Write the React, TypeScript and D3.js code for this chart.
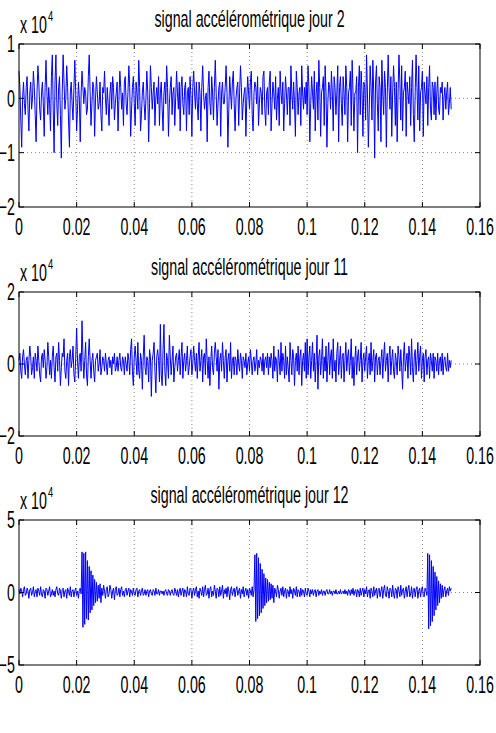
import * as d3 from "d3";

const xTicks = [0, 0.02, 0.04, 0.06, 0.08, 0.1, 0.12, 0.14, 0.16];
const xTickLabels = ["0", "0.02", "0.04", "0.06", "0.08", "0.1", "0.12", "0.14", "0.16"];

const titles = [
  "signal accélérométrique jour 2",
  "signal accélérométrique jour 11",
  "signal accélérométrique jour 12",
];

// y ticks in units of 10^4
const yTicksJour2 = [-2, -1, 0, 1];
const yTicksJour11 = [-2, 0, 2];
const yTicksJour12 = [-5, 0, 5];

// seconds between two samples
const sampleStep = 0.0003125;

// samples, in thousands
const jour2 = [
  5, 2, -4, -9, 0, 3, -1, -3, 2, 4, -2, -6, 1, 3, -2, 0, 5, 2, -3, -8,
  1, 6, 3, -2, -4, 1, 3, -1, -7, 2, 7, 1, -3, 2, -1, -6, 4, 8, -2, -10,
  3, 8, -1, -5, 2, 4, -3, -11, 1, 8, 3, -2, 0, 6, 2, -4, -9, 1, 3, -1,
  -4, 2, 7, 1, -6, -2, 3, 0, -8, 1, 5, 2, -1, 2, 1, -3, -2, 4, 8, 1,
  -5, -1, 3, 2, -7, 0, 4, 1, -2, -1, 3, -3, -6, 2, 1, 5, 0, -3, 2, -1,
  -5, 1, 3, -2, 4, 2, -4, -1, 1, 3, -6, 0, 5, 2, -2, 1, -5, 3, 4, -1,
  -3, 1, 6, 2, -7, -2, 2, 4, -1, -5, 3, 1, -2, 7, 2, -6, -3, 1, 3, -1,
  -4, 0, 5, 1, -8, -1, 6, 2, -2, 1, 3, -5, 0, 2, -1, 4, -5, 1, 3, -2,
  -6, 1, 3, -1, 6, 2, -7, -1, 2, 4, -3, 1, 2, -5, 0, 5, 1, -2, 3, -6,
  2, 4, -1, -3, 2, 3, -6, 1, 2, -3, 4, 0, -7, 2, 5, 1, -2, 3, -1, -4,
  3, 1, -6, 2, 6, 1, -2, 0, 1, -8, 2, 5, -1, -3, 4, 1, -4, 2, 7, 1,
  -5, -1, 2, 3, -7, 1, 3, -1, -1, 2, 6, 1, -9, -2, 4, 1, -2, 3, 5, -1,
  -6, 0, 2, 3, -5, 1, 6, 2, -4, -1, 1, 2, -7, 0, 4, 1, -2, 3, 5, -3,
  -6, 1, 3, 2, -1, 4, -5, -1, 2, 1, -3, 4, 5, -2, -5, 1, 2, -3, 3, 5,
  -6, -1, 3, 1, -2, 4, -4, 0, 2, -5, 5, 1, -1, 3, -6, -1, 4, 1, -3, 2,
  2, -5, 6, 1, -2, 3, -1, -7, 5, 2, -3, 1, 2, -5, 6, 1, -2, 2, -1, 3,
  -3, 6, 2, -8, -1, 4, 1, -2, 5, -6, 1, 3, -4, 7, 2, -7, 1, 2, 4, -5,
  6, 1, -9, -1, 3, 2, -2, 5, 1, -6, 4, 2, -3, 1, 6, -8, 2, 4, -1, -5,
  4, 1, -3, 6, 2, -8, 1, 2, 5, -5, 7, 1, -6, 1, 1, 4, -10, 2, 6, -3,
  5, 1, -7, 3, 2, -4, 8, 1, -9, -2, 6, 2, -4, 7, 1, -11, 3, 6, -1, -6,
  4, 2, -8, 7, 1, -3, 5, 2, -9, 1, 8, 2, -2, 4, -7, 1, 6, 2, -5, 3,
  -8, 1, 8, 3, -4, 6, -6, 1, 2, 5, -7, 3, 1, -1, 4, -5, 2, 7, -3, -8,
  1, 8, 2, -4, 6, -6, 1, 2, 5, -7, 3, 1, -1, 4, -5, 2, 6, -2, -4, 3,
  2, -3, 3, -4, 1, 4, -2, -3, 2, 1, 3, -4, 0, 2, -2, 1, 3, -3, -1, 2,
  -2,
];

const jour11 = [
  1, 3, -2, -4, 2, 4, 0, -3, 1, 2, -4, 1, 5, 2, -3, -1, 2, -4, 3, 1,
  -2, 5, 1, -3, -5, 2, 3, -1, 4, 1, -4, -1, 6, 2, -3, 1, -4, 2, 5, -1,
  -5, 2, 3, -2, 6, 1, -6, -1, 3, 2, 7, -2, -4, 1, 3, -6, 2, 4, -1, 1,
  5, -3, -5, 2, 10, 1, -4, 2, 3, -2, 12, 2, -4, 1, 6, -3, -6, 2, 7, 1,
  -4, 1, 3, -2, -5, 1, 2, 3, -2, 0, 4, -3, -1, 2, 1, -2, 3, 0, -3, 1,
  2, -1, 1, -3, 2, 0, 3, -2, -1, 2, -2, 1, 3, -1, -2, 2, 1, -3, 2, 0,
  -2, 3, 1, -3, 4, 7, -2, -6, 2, 5, 1, -3, 6, -2, -4, 3, 1, -7, 2, 8,
  -1, -3, 2, 1, -5, 4, 2, -9, 1, 3, 6, -2, -8, 2, 4, 1, -5, 11, -3, -6,
  4, 11, -2, -6, 3, 1, -4, 8, 2, -3, 1, 5, -5, -1, 2, 3, -2, 1, 4, -3,
  2, 6, -4, 1, 3, -2, 1, 5, -3, -1, 2, 4, -3, 0, 5, 1, -2, 3, -4, 2,
  6, -2, 1, 4, -5, 2, 3, -3, 7, 1, -4, 2, -6, 1, 5, -1, -3, 3, 6, 2,
  -2, 4, -7, 1, 3, -2, 6, 1, -4, 2, 4, -5, 1, 3, -2, 6, -4, 1, 2, -3,
  2, 1, -3, 4, 0, -2, 3, 1, -4, 2, 1, -1, 3, -3, 0, 2, -2, 4, 1, -3,
  1, 2, -2, 0, 4, -3, 1, -1, 2, 1, -2, 3, -3, 1, 2, -1, 3, -3, 2, -1,
  3, 1, -4, 5, -2, 2, 1, -5, 4, 1, -3, 6, -2, 3, 1, -4, 5, -3, 2, -1,
  -5, 6, 1, -3, 4, 2, -6, 1, 3, -2, 5, -3, 2, 4, -6, 1, 3, -2, 6, -4,
  7, -3, 2, 5, -4, 1, 6, -2, 3, -5, 1, 8, -7, 2, 4, -3, 1, 7, -4, 2,
  -2, 5, -5, 1, 6, -3, 2, 4, -4, 7, -2, 1, -5, 3, 6, -3, 1, 5, -4, 2,
  3, -5, 1, 6, -2, 2, 4, -3, 1, 7, -4, 2, -6, 1, 5, -3, 2, 4, -2, 1,
  6, -5, 1, 3, -2, 2, 5, -4, 1, 3, -3, 6, -2, 1, 4, -5, 2, 3, -3, 1,
  2, -3, 1, 4, -4, 2, 6, -2, 1, 3, -5, 2, 5, -3, 1, 4, -2, -4, 3, 1,
  -3, 5, 2, -2, 4, -1, -7, 2, 6, -2, 1, 3, -4, 5, 2, -3, 7, -1, -5, 2,
  4, -3, 1, 6, -2, 2, 5, -4, 1, 3, -5, 2, 4, -3, 1, 2, -4, 3, 1, -2,
  3, -4, 2, 1, -2, 3, -3, 1, 2, -2, 3, -3, 1, 2, -1, -2, 3, -2, 1, -1,
  1,
];

const jour12 = [
  2, -1, 3, 1, -3, 2, 4, -2, -1, 3, 1, -4, 2, 3, -2, 0, 4, -3, 1, 2,
  -3, 3, 1, -2, 4, -1, -3, 2, 1, -4, 3, 2, -2, 1, 4, -3, -1, 2, -2, 1,
  -3, 2, 4, -1, -2, 3, 1, -4, 2, 3, -3, 1, 2, -4, 3, 1, -2, 4, -3, 1,
  2, -3, 1, 3, -2, 1, -4, 2, 3, -1, 28, -24, 27, -22, 28, -18, 22, -19, 18, -14,
  15, -12, 12, -9, 9, -7, 7, -6, 5, -4, 6, -7, 3, -2, 5, 1, -4, 2, 4, -3,
  -1, 5, 2, -4, 1, 3, -5, 2, 4, -2, -1, 3, -3, 2, 4, -2, 1, -3, 2, 3,
  -2, 1, 3, -3, 2, 1, -2, 3, -1, -2, 2, 3, -3, 1, 2, -2, 1, 3, -2, -1,
  2, -2, 1, 2, -3, 1, 2, -1, -2, 2, 1, -2, 3, -1, -1, 2, -2, 1, 1, -1,
  1, -2, 1, 2, -1, -2, 2, 1, -2, 1, 2, -1, -2, 3, 1, -2, 2, -3, 1, 3,
  -2, 1, 3, -3, 2, 1, -3, 4, -1, -2, 3, 2, -4, 1, 3, -2, 2, 4, -3, 1,
  -4, 3, 1, -2, 4, -3, 2, 5, -2, -1, 3, -4, 2, 4, -3, 1, -2, 5, 1, -4,
  3, 2, -3, 4, -2, 1, 5, -4, 2, -1, 3, -3, 4, 1, -5, 2, 4, -2, 1, 3,
  -3, 2, 4, -2, 1, 3, -4, 2, -1, 4, -3, 1, 3, -2, 2, -4, 3, 1, -2, 4,
  -3, 2, 26, -20, 27, -18, 24, -16, 20, -14, 16, -11, 13, -9, 10, -7, 9, -6, 7, -5,
  6, -4, 5, -7, 3, 1, -3, 5, 2, -4, 1, 3, -2, 4, -3, 1, 3, -4, 2, 1,
  -3, 4, -1, 2, -4, 3, 1, -2, 4, -3, 2, 1, -3, 3, -2, 2, 1, -3, 3, -1,
  -2, 3, 1, -3, 2, -1, 2, -2, 1, 2, -3, 1, 2, -2, 1, -1, 2, -2, 1, 1,
  -2, 1, 2, -1, -1, 2, -1, 1, -2, 1, 1, -1, 2, -1, -1, 1, -1, 2, -1, 0,
  1, -1, 2, -1, 1, -2, 2, 1, -2, 2, -1, 3, -2, 1, 2, -3, 2, 1, -3, 3,
  -2, 1, 3, -3, 2, -1, 4, -3, 1, 2, -4, 3, 1, -3, 4, -2, 1, 3, -4, 2,
  3, -3, 1, 4, -4, 2, 5, -2, -3, 4, 1, -4, 3, 2, -3, 5, -1, -4, 3, 2,
  -4, 4, 1, -3, 5, -2, 2, 3, -4, 1, 4, -3, 2, 5, -3, -1, 4, -4, 2, 3,
  -3, 2, 4, -4, 1, 3, -3, 2, 4, -2, -3, 3, 1, -2, 27, -25, 26, -23, 22, -20,
  18, -16, 14, -12, 11, -9, 8, -7, 6, -4, 5, -3, 2, 4, -3, 1, 3, -2, 4, 1,
  3,
];

const W = 496;
const H = 733;
const left = 19;
const right = 480;
const fontSize = 23;
const squeeze = 0.62;
const font = "'Liberation Sans', Arial, Helvetica, sans-serif";

const fmt = (v: number) => (v < 0 ? "\u2212" + Math.abs(v) : String(v));

type PanelProps = {
  top: number;
  bottom: number;
  title: string;
  values: number[];
  yTicks: number[];
};

function Label({ x, y, text, anchor = "middle", size = fontSize }: { x: number; y: number; text: string; anchor?: string; size?: number }) {
  return (
    <text
      transform={`translate(${x},${y}) scale(${squeeze},1)`}
      textAnchor={anchor}
      fontSize={size}
      fontFamily={font}
      fill="#000"
    >
      {text}
    </text>
  );
}

function Panel({ top, bottom, title, values, yTicks }: PanelProps) {
  const x = d3.scaleLinear().domain([0, 0.16]).range([left, right]);
  const y = d3
    .scaleLinear()
    .domain([yTicks[0], yTicks[yTicks.length - 1]])
    .range([bottom, top]);

  const line = d3
    .line<number>()
    .x((_, i) => x(i * sampleStep))
    .y((d) => y(d / 10));

  const tickLen = 5;
  const capHalf = fontSize * 0.358;

  return (
    <g>
      {/* grid */}
      {xTicks.slice(1, -1).map((t) => (
        <line key={"gx" + t} x1={x(t)} x2={x(t)} y1={top} y2={bottom} stroke="#8a8a8a" strokeDasharray="1,3" />
      ))}
      {yTicks.slice(1, -1).map((t) => (
        <line key={"gy" + t} x1={left} x2={right} y1={y(t)} y2={y(t)} stroke="#8a8a8a" strokeDasharray="1,3" />
      ))}

      <path d={line(values) ?? undefined} fill="none" stroke="#0000ff" strokeWidth={1} />

      {/* box and ticks */}
      <rect x={left} y={top} width={right - left} height={bottom - top} fill="none" stroke="#000" strokeWidth={1} />
      {xTicks.map((t) => (
        <g key={"tx" + t}>
          <line x1={x(t)} x2={x(t)} y1={bottom} y2={bottom - tickLen} stroke="#000" />
          <line x1={x(t)} x2={x(t)} y1={top} y2={top + tickLen} stroke="#000" />
        </g>
      ))}
      {yTicks.map((t) => (
        <g key={"ty" + t}>
          <line x1={left} x2={left + tickLen} y1={y(t)} y2={y(t)} stroke="#000" />
          <line x1={right} x2={right - tickLen} y1={y(t)} y2={y(t)} stroke="#000" />
        </g>
      ))}

      {xTicks.map((t, i) => (
        <Label key={"lx" + t} x={x(t)} y={bottom + 20 + capHalf} text={xTickLabels[i]} />
      ))}
      {yTicks.map((t) => (
        <Label key={"ly" + t} x={15} y={y(t) + capHalf} text={fmt(t)} anchor="end" />
      ))}

      <Label x={(left + right) / 2} y={top - 17} text={title} />
      <Label x={20} y={top - 11} text="x 10" anchor="start" />
      <Label x={48} y={top - 23} text="4" anchor="start" size={15} />
    </g>
  );
}

export default function App() {
  return (
    <svg
      width={W}
      height={H}
      style={{ position: "absolute", left: 0, top: 0, background: "#fff" }}
    >
      <rect width={W} height={H} fill="#fff" />
      <Panel top={44} bottom={207} title={titles[0]} values={jour2} yTicks={yTicksJour2} />
      <Panel top={292} bottom={436} title={titles[1]} values={jour11} yTicks={yTicksJour11} />
      <Panel top={520} bottom={665} title={titles[2]} values={jour12} yTicks={yTicksJour12} />
    </svg>
  );
}
